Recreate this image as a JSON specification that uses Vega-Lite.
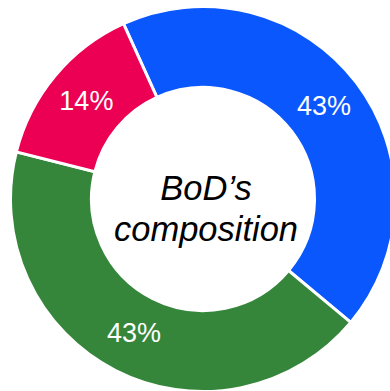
{
  "$schema": "https://vega.github.io/schema/vega-lite/v6.json",
  "width": 374,
  "height": 382,
  "padding": {"left": 16, "top": 8, "right": 0, "bottom": 1},
  "autosize": {"type": "none"},
  "background": "white",
  "config": {"view": {"stroke": null}},
  "datasets": {
    "seats": [
      {"group": "A", "seats": 3, "pct": "43%", "order": 1},
      {"group": "B", "seats": 3, "pct": "43%", "order": 2},
      {"group": "C", "seats": 1, "pct": "14%", "order": 3}
    ],
    "centre": [{"label": "BoD’s\ncomposition"}]
  },
  "layer": [
    {
      "data": {"name": "seats"},
      "mark": {"type": "arc", "outerRadius": 192.5, "innerRadius": 111.5, "stroke": "white", "strokeWidth": 3},
      "encoding": {
        "theta": {"field": "seats", "type": "quantitative", "stack": true, "scale": {"range": [-0.4259, 5.8573]}},
        "order": {"field": "order", "type": "quantitative"},
        "color": {"field": "group", "type": "nominal", "scale": {"domain": ["A", "B", "C"], "range": ["#0A57FE", "#35863B", "#EB0053"]}, "legend": null}
      }
    },
    {
      "data": {"name": "seats"},
      "mark": {"type": "text", "radius": 152, "fontSize": 27, "font": "Liberation Sans", "color": "white"},
      "encoding": {
        "theta": {"field": "seats", "type": "quantitative", "stack": true, "scale": {"range": [-0.4259, 5.8573]}},
        "order": {"field": "order", "type": "quantitative"},
        "text": {"field": "pct", "type": "nominal"}
      }
    },
    {
      "data": {"name": "centre"},
      "mark": {"type": "text", "lineBreak": "\n", "fontSize": 34.5, "fontStyle": "italic", "font": "Liberation Sans", "color": "black", "lineHeight": 41, "dx": 3, "dy": -9},
      "encoding": {
        "text": {"field": "label", "type": "nominal"}
      }
    }
  ]
}
